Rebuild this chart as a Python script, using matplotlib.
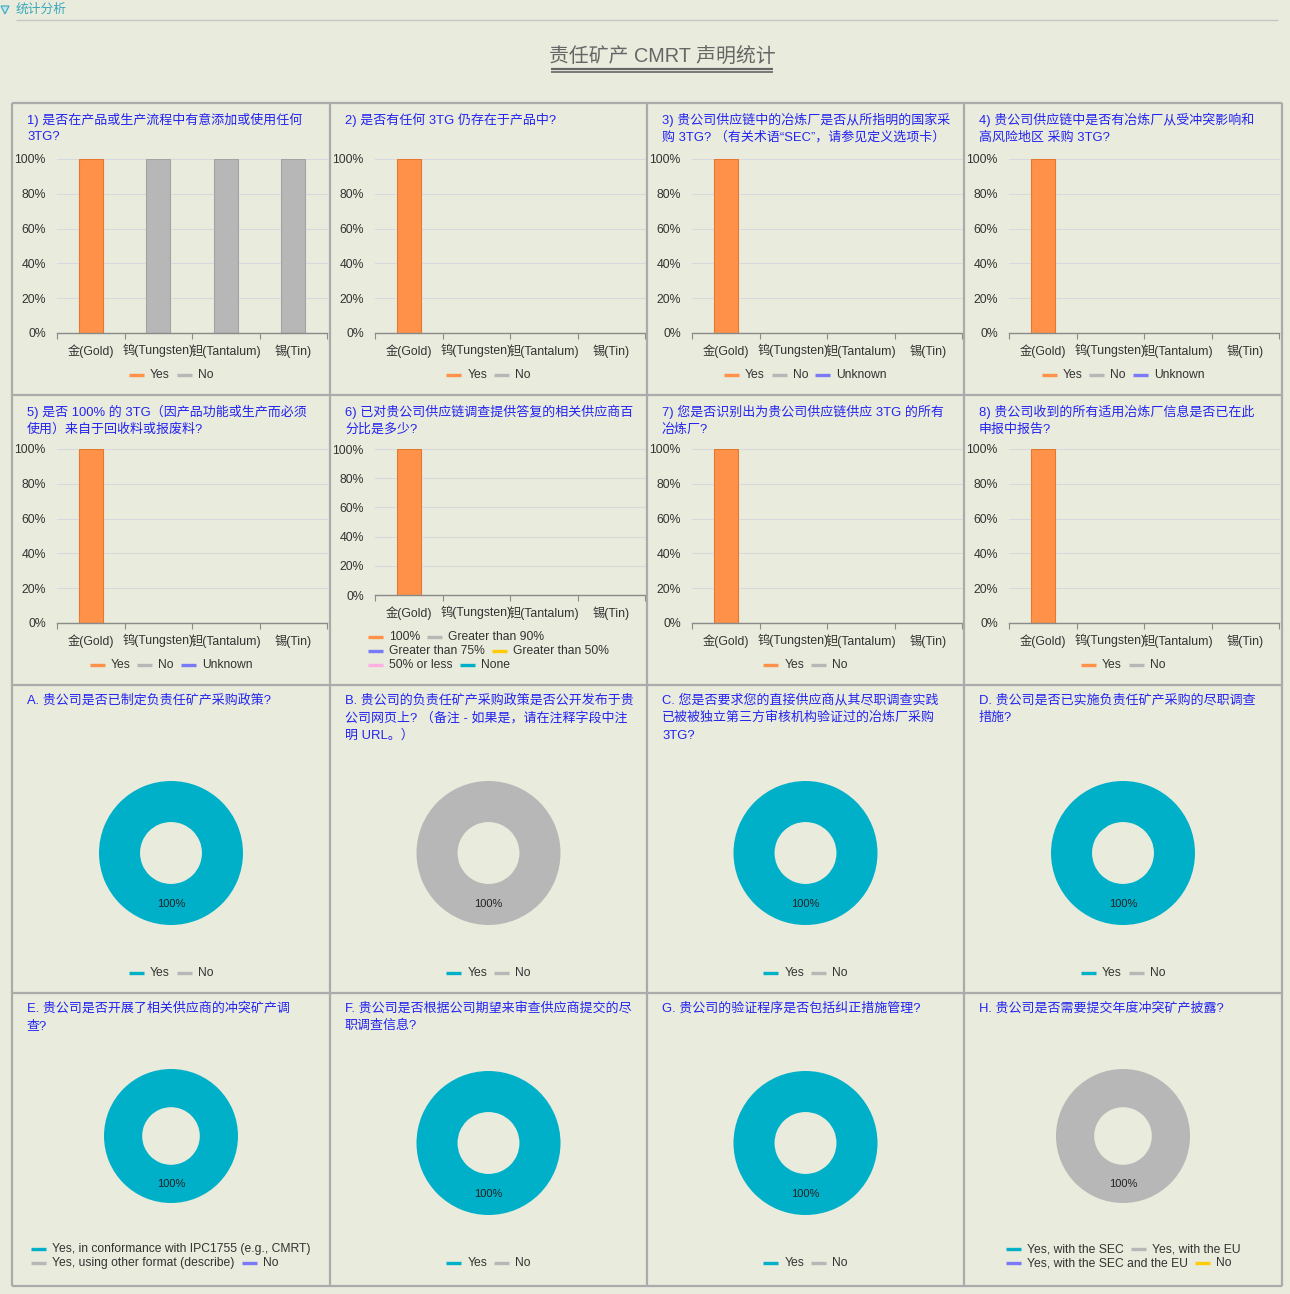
import matplotlib
matplotlib.use('Agg')
import matplotlib.pyplot as plt
from matplotlib.lines import Line2D
from matplotlib.patches import Polygon

plt.rcParams['font.family'] = ['Liberation Sans', 'Noto Sans CJK SC', 'DejaVu Sans']

# ---------------- data ----------------
page_header = '统计分析'
main_title = '责任矿产 CMRT 声明统计'
categories = ['金(Gold)', '钨(Tungsten)', '钽(Tantalum)', '锡(Tin)']
y_ticks = [0, 20, 40, 60, 80, 100]
y_tick_labels = ['0%', '20%', '40%', '60%', '80%', '100%']

q_titles = [
    '1) 是否在产品或生产流程中有意添加或使用任何\n3TG?',
    '2) 是否有任何 3TG 仍存在于产品中?',
    '3) 贵公司供应链中的冶炼厂是否从所指明的国家采\n购 3TG? （有关术语“SEC”，请参见定义选项卡）',
    '4) 贵公司供应链中是否有冶炼厂从受冲突影响和\n高风险地区 采购 3TG?',
    '5) 是否 100% 的 3TG（因产品功能或生产而必须\n使用）来自于回收料或报废料?',
    '6) 已对贵公司供应链调查提供答复的相关供应商百\n分比是多少?',
    '7) 您是否识别出为贵公司供应链供应 3TG 的所有\n冶炼厂?',
    '8) 贵公司收到的所有适用冶炼厂信息是否已在此\n申报中报告?',
]

# series names for each bar question
q_series = [
    ['Yes', 'No'],
    ['Yes', 'No'],
    ['Yes', 'No', 'Unknown'],
    ['Yes', 'No', 'Unknown'],
    ['Yes', 'No', 'Unknown'],
    ['100%', 'Greater than 90%', 'Greater than 75%', 'Greater than 50%', '50% or less', 'None'],
    ['Yes', 'No'],
    ['Yes', 'No'],
]
# values (percent) per series, per category
q1_values = [[100, 0, 0, 0], [0, 100, 100, 100]]
q2_values = [[100, 0, 0, 0], [0, 0, 0, 0]]
q3_values = [[100, 0, 0, 0], [0, 0, 0, 0], [0, 0, 0, 0]]
q4_values = [[100, 0, 0, 0], [0, 0, 0, 0], [0, 0, 0, 0]]
q5_values = [[100, 0, 0, 0], [0, 0, 0, 0], [0, 0, 0, 0]]
q6_values = [[100, 0, 0, 0], [0, 0, 0, 0], [0, 0, 0, 0], [0, 0, 0, 0], [0, 0, 0, 0], [0, 0, 0, 0]]
q7_values = [[100, 0, 0, 0], [0, 0, 0, 0]]
q8_values = [[100, 0, 0, 0], [0, 0, 0, 0]]
q_values = [q1_values, q2_values, q3_values, q4_values, q5_values, q6_values, q7_values, q8_values]
# legend row layout for bar questions
q_legend_rows = [None] * 8
q_legend_rows[5] = [[0, 1], [2, 3], [4, 5]]

p_titles = [
    'A. 贵公司是否已制定负责任矿产采购政策?',
    'B. 贵公司的负责任矿产采购政策是否公开发布于贵\n公司网页上? （备注 - 如果是，请在注释字段中注\n明 URL。）',
    'C. 您是否要求您的直接供应商从其尽职调查实践\n已被被独立第三方审核机构验证过的冶炼厂采购\n3TG?',
    'D. 贵公司是否已实施负责任矿产采购的尽职调查\n措施?',
    'E. 贵公司是否开展了相关供应商的冲突矿产调\n查?',
    'F. 贵公司是否根据公司期望来审查供应商提交的尽\n职调查信息?',
    'G. 贵公司的验证程序是否包括纠正措施管理?',
    'H. 贵公司是否需要提交年度冲突矿产披露?',
]
p_series = [
    ['Yes', 'No'], ['Yes', 'No'], ['Yes', 'No'], ['Yes', 'No'],
    ['Yes, in conformance with IPC1755 (e.g., CMRT)', 'Yes, using other format (describe)', 'No'],
    ['Yes', 'No'], ['Yes', 'No'],
    ['Yes, with the SEC', 'Yes, with the EU', 'Yes, with the SEC and the EU', 'No'],
]
pA_values = [100, 0]
pB_values = [0, 100]
pC_values = [100, 0]
pD_values = [100, 0]
pE_values = [100, 0, 0]
pF_values = [100, 0]
pG_values = [100, 0]
pH_values = [0, 100, 0, 0]
p_values = [pA_values, pB_values, pC_values, pD_values, pE_values, pF_values, pG_values, pH_values]
p_legend_rows = [None] * 8
p_legend_rows[4] = [[0], [1, 2]]
p_legend_rows[7] = [[0, 1], [2, 3]]

# ---------------- style ----------------
bar_colors = ['#FF9148', '#B7B7B7', '#7A7AF8', '#FFCB05', '#FFB0E3', '#00B0C9']
bar_edges = ['#E5782E', '#A3A3A3', '#6868E0', '#E0B000', '#E898C8', '#0098B0']
pie_colors = ['#00B0C9', '#B7B7B7', '#7A7AF8', '#FFCB05']
BG = '#E9EBDC'
TITLE_BLUE = '#2424F0'
BORDER = '#ABABAB'

W, H = 1290, 1294
fig = plt.figure(figsize=(W / 100, H / 100), dpi=100)
fig.patch.set_facecolor(BG)
renderer = fig.canvas.get_renderer()


def fx(x):
    return x / W


def fy(y):
    return 1 - y / H


def hline(x0, x1, y, color, lw):
    fig.add_artist(Line2D([fx(x0), fx(x1)], [fy(y), fy(y)], color=color, lw=lw, solid_capstyle='butt'))


def vline(x, y0, y1, color, lw):
    fig.add_artist(Line2D([fx(x), fx(x)], [fy(y0), fy(y1)], color=color, lw=lw, solid_capstyle='butt'))


# header
fig.add_artist(Polygon([[fx(1), fy(6)], [fx(9), fy(6)], [fx(5), fy(14)]], closed=True,
                       facecolor='#BFE6EE', edgecolor='#3AA8BD', lw=0.8))
fig.text(fx(16), fy(10), page_header, fontsize=9.2, color='#3AA8BD', va='center', ha='left')
hline(16, 1278, 20, '#C4C6C8', 1.0)

# main title
fig.text(fx(662), fy(57), main_title, fontsize=14.3, color='#666666', va='center', ha='center')
hline(551, 773, 68.5, '#666666', 1.6)
hline(551, 773, 71.8, '#666666', 1.2)

# grid borders
col_x = [12, 330, 647, 964, 1282]
row_y = [103, 395, 685, 993, 1286]
for x in col_x:
    vline(x, row_y[0], row_y[-1], BORDER, 1.6)
for y in row_y:
    hline(col_x[0], col_x[-1], y, BORDER, 1.6)

FS_LEG = 8.7
FS_TICK = 8.8


def text_width(s, fs):
    tt = fig.text(0, 0, s, fontsize=fs)
    w = tt.get_window_extent(renderer).width
    tt.remove()
    return w


def draw_legend(labels, colors, rows, cx, y0, dy=14):
    HW, HG, IG = 15, 6, 7
    if rows is None:
        rows = [list(range(len(labels)))]
    widths = []
    for row in rows:
        w = 0
        for i, k in enumerate(row):
            w += HW + HG + text_width(labels[k], FS_LEG)
            if i < len(row) - 1:
                w += IG
        widths.append(w)
    x0 = cx - max(widths) / 2
    for r, row in enumerate(rows):
        x = x0
        y = y0 + r * dy
        for k in row:
            hline(x, x + HW, y, colors[k], 2.4)
            fig.text(fx(x + HW + HG), fy(y), labels[k], fontsize=FS_LEG, color='#333333',
                     va='center', ha='left')
            x += HW + HG + text_width(labels[k], FS_LEG) + IG


def draw_title(text, x, y):
    for i, line in enumerate(text.split('\n')):
        fig.text(fx(x), fy(y + 18 * i), line, fontsize=9.35, color=TITLE_BLUE, va='center', ha='left')


# ---------------- bar panels ----------------
bar_axis_top = [159, 449]
bar_axis_bottom = [333, 623]
for q in range(8):
    c = q % 4
    r = q // 4
    L = col_x[c]
    top_y = row_y[r]
    draw_title(q_titles[q], L + 15, top_y + 16.5)
    y100 = bar_axis_top[r]
    nleg = len(q_legend_rows[q]) if q_legend_rows[q] else 1
    y0 = bar_axis_bottom[r] - (nleg - 1) * 14
    ax0 = L + 45
    ax1 = L + 315
    ax = fig.add_axes([fx(ax0), fy(y0), (ax1 - ax0) / W, (y0 - y100) / H])
    ax.set_facecolor('none')
    xs = list(range(len(categories)))
    bottom = [0] * len(categories)
    for s, vals in enumerate(q_values[q]):
        lws = [0.8 if v > 0 else 0 for v in vals]
        ax.bar(xs, vals, width=0.36, bottom=bottom, color=bar_colors[s], edgecolor=bar_edges[s],
               linewidth=lws, zorder=3)
        bottom = [b + v for b, v in zip(bottom, vals)]
    ax.set_xlim(-0.5, len(categories) - 0.5)
    ax.set_ylim(0, 100)
    ax.set_yticks(y_ticks)
    ax.set_yticklabels(y_tick_labels)
    ax.grid(axis='y', color='#D8D9DE', lw=0.8, zorder=0)
    for sp in ['top', 'right', 'left']:
        ax.spines[sp].set_visible(False)
    ax.spines['bottom'].set_color('#8A8A8A')
    ax.spines['bottom'].set_linewidth(1.0)
    ax.spines['bottom'].set_zorder(4)
    ax.set_xticks([i - 0.5 for i in range(len(categories) + 1)])
    ax.set_xticklabels([])
    ax.set_xticks(xs, minor=True)
    ax.set_xticklabels(categories, minor=True)
    ax.tick_params(axis='x', which='major', length=4, color='#8A8A8A', direction='out')
    ax.tick_params(axis='x', which='minor', length=0, pad=8, labelsize=FS_TICK, labelcolor='#333333')
    ax.tick_params(axis='y', length=0, pad=8, labelsize=FS_TICK, labelcolor='#333333')
    for gl in ax.get_ygridlines():
        gl.set_clip_on(False)
    draw_legend(q_series[q], bar_colors, q_legend_rows[q], (L + col_x[c + 1]) / 2, y0 + 42)

# ---------------- pie panels ----------------
pie_geom = [
    (853, 72, 973), (853, 72, 973), (853, 72, 973), (853, 72, 973),
    (1136, 67, 1249), (1143, 72, 1263), (1143, 72, 1263), (1136, 67, 1249),
]
for p in range(8):
    c = p % 4
    r = 2 + p // 4
    L = col_x[c]
    top_y = row_y[r]
    draw_title(p_titles[p], L + 15, top_y + 15)
    cy, rad, leg_y = pie_geom[p]
    cx = (L + col_x[c + 1]) / 2
    ax = fig.add_axes([fx(cx - rad), fy(cy + rad), 2 * rad / W, 2 * rad / H])
    ax.set_facecolor('none')
    vals = p_values[p]
    cols = pie_colors[:len(vals)]
    ax.pie(vals, colors=cols, radius=1, startangle=90, counterclock=False,
           wedgeprops=dict(width=1 - 0.43, linewidth=0),
           autopct=lambda v: '%d%%' % round(v) if v > 0 else '',
           pctdistance=0.715, textprops=dict(fontsize=8, color='#222222'))
    ax.set_xlim(-1, 1)
    ax.set_ylim(-1, 1)
    ax.axis('off')
    draw_legend(p_series[p], pie_colors, p_legend_rows[p], cx, leg_y)

fig.savefig('out.png', dpi=100, facecolor=BG)
